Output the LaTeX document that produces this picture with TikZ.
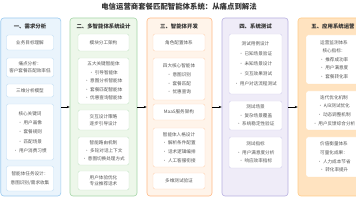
\documentclass[tikz,border=0pt]{standalone}
\usepackage{fontspec}
\setmainfont{Noto Sans CJK SC}
\usetikzlibrary{arrows.meta}
\definecolor{fillA}{HTML}{EAF4FC}
\definecolor{lineA}{HTML}{9CCBF0}
\definecolor{inA}{HTML}{BFDDF5}
\definecolor{fillB}{HTML}{EDF7EA}
\definecolor{lineB}{HTML}{A5D6A7}
\definecolor{inB}{HTML}{C8E6C9}
\definecolor{fillC}{HTML}{FFF4EA}
\definecolor{lineC}{HTML}{FFB985}
\definecolor{inC}{HTML}{FFD5B5}
\definecolor{fillD}{HTML}{EFECF8}
\definecolor{lineD}{HTML}{B8B0E0}
\definecolor{inD}{HTML}{D4CFEE}
\definecolor{fillE}{HTML}{FFE3C0}
\definecolor{lineE}{HTML}{FFCC88}
\definecolor{inE}{HTML}{FFE0B8}
\definecolor{txt}{HTML}{555555}
\definecolor{head}{HTML}{333333}
\tikzset{
  colbox/.style={rounded corners=3pt, line width=0.6pt, minimum height=178pt, inner sep=0pt},
  headtxt/.style={font=\fontsize{5.4pt}{6pt}\selectfont\bfseries, text=head, inner sep=0pt},
  ibox/.style={fill=white, rounded corners=2pt, line width=0.4pt, align=center, inner sep=0pt,
    font=\fontsize{4.6pt}{8.6pt}\selectfont, text=txt},
  arr/.style={-{Stealth[length=3pt,width=2.4pt]}, line width=0.5pt, black}
}
\begin{document}
\begin{tikzpicture}[x=1pt,y=-1pt]
\useasboundingbox (0,0) rectangle (356,200);
\clip (0,0) rectangle (356,200);
\fill[white] (0,0) rectangle (356,200);
\node[font=\fontsize{7.4pt}{8pt}\selectfont\bfseries, text=head, inner sep=0pt] (title) at (179,6.5) {电信运营商套餐匹配智能体系统：从痛点到解法};
% columns
\node[colbox, fill=fillA, draw=lineA, minimum width=60pt] (c1) at (30.8,107) {};
\node[colbox, fill=fillB, draw=lineB, minimum width=67pt] (c2) at (103.5,107) {};
\node[colbox, fill=fillC, draw=lineC, minimum width=65pt] (c3) at (179.5,107) {};
\node[colbox, fill=fillD, draw=lineD, minimum width=66pt] (c4) at (255,107) {};
\node[colbox, fill=fillE, draw=lineE, minimum width=70pt] (c5) at (333,107) {};
% headers
\node[headtxt] (h1) at (30,26) {一、需求分析};
\node[headtxt] (h2) at (103.5,26) {二、多智能体系统设计};
\node[headtxt] (h3) at (179,26) {三、智能体开发};
\node[headtxt] (h4) at (255.5,26) {四、系统测试};
\node[headtxt] (h5) at (333,26) {五、应用系统运营};
% column 1
\node[ibox, draw=inA, minimum width=47pt, minimum height=15pt] (a1) at (30,42.5) {业务目标理解};
\node[ibox, draw=inA, minimum width=47pt, minimum height=19pt, font=\fontsize{4.6pt}{7pt}\selectfont] (a2) at (30,67.5) {痛点分析：\\客户套餐匹配效率低};
\node[ibox, draw=inA, minimum width=47pt, minimum height=13pt] (a3) at (30,90.5) {三维分析模型};
\node[ibox, draw=inA, minimum width=47pt, minimum height=56pt, font=\fontsize{4.6pt}{9.3pt}\selectfont] (a4) at (30,132) {核心关键词\\• 用户画像\\• 套餐规则\\• 匹配场景\\• 用户消费习惯};
\node[ibox, draw=inA, minimum width=47pt, minimum height=25pt] (a5) at (30,178.5) {智能体任务设计：\\意图识别/需求收集};
% column 2
\node[ibox, draw=inB, minimum width=51pt, minimum height=17pt] (b1) at (103.5,42.5) {模块分工架构};
\node[ibox, draw=inB, minimum width=51pt, minimum height=46pt] (b2) at (103.5,81) {五大关键智能体\\• 引导智能体\\• 意图分析智能体\\• 套餐匹配智能体\\• 优惠查询智能体};
\node[ibox, draw=inB, minimum width=51pt, minimum height=20pt, font=\fontsize{4.6pt}{6.5pt}\selectfont] (b3) at (103.5,120) {交互设计策略\\逐步引导设计};
\node[ibox, draw=inB, minimum width=51pt, minimum height=28pt, font=\fontsize{4.6pt}{7.8pt}\selectfont] (b4) at (103.5,151) {智能路由机制\\• 多轮对话上下文\\• 意图切换处理方式};
\node[ibox, draw=inB, minimum width=51pt, minimum height=19pt, font=\fontsize{4.6pt}{6.5pt}\selectfont] (b5) at (103.5,180.5) {用户体验优化\\专业推荐话术};
% column 3
\node[ibox, draw=inC, minimum width=52pt, minimum height=17pt] (d1) at (179,42.5) {角色配置体系};
\node[ibox, draw=inC, minimum width=52pt, minimum height=42pt] (d2) at (179,79) {四大核心智能体\\• 意图识别\\• 套餐匹配\\• 优惠查询};
\node[ibox, draw=inC, minimum width=52pt, minimum height=16pt] (d3) at (179,112) {MaaS服务架构};
\node[ibox, draw=inC, minimum width=52pt, minimum height=39pt] (d4) at (179,147.5) {智能体人格设计\\• 解析条件配置\\• 话术逻辑编排\\• 人工客服衔接};
\node[ibox, draw=inC, minimum width=52pt, minimum height=16pt] (d5) at (179,181) {多维测试验证};
% column 4
\node[ibox, draw=inD, minimum width=53pt, minimum height=60pt, font=\fontsize{4.6pt}{10pt}\selectfont] (e1) at (255.5,64) {测试用例设计\\• 已知场景验证\\• 未知场景设计\\• 交互效果测试\\• 用户对话流程测试};
\node[ibox, draw=inD, minimum width=53pt, minimum height=29pt] (e2) at (255.5,115.5) {测试场景\\• 复杂场景覆盖\\• 系统稳定性验证};
\node[ibox, draw=inD, minimum width=53pt, minimum height=31pt] (e3) at (255.5,152.5) {测试指标\\• 用户满意度分析\\• 响应效率指标};
% column 5
\node[ibox, draw=inE, minimum width=56pt, minimum height=49pt] (f1) at (334,59.5) {运营监测体系\\核心指标：\\• 推荐成功率\\• 用户满意度\\• 套餐转化率};
\node[ibox, draw=inE, minimum width=56pt, minimum height=39pt] (f2) at (334,110.5) {迭代优化机制\\• A/B测试优化\\• 动态调整机制\\• 用户反馈综合分析};
\node[ibox, draw=inE, minimum width=56pt, minimum height=40pt] (f3) at (334,157) {价值衡量体系\\可量化成果：\\• 人力成本节省\\• 转化率提升};
% arrows
\draw[arr] (c1.east) -- (c2.west);
\draw[arr] (c2.east) -- (c3.west);
\draw[arr] (c3.east) -- (c4.west);
\draw[arr] (c4.east) -- (c5.west);
\end{tikzpicture}
\end{document}
